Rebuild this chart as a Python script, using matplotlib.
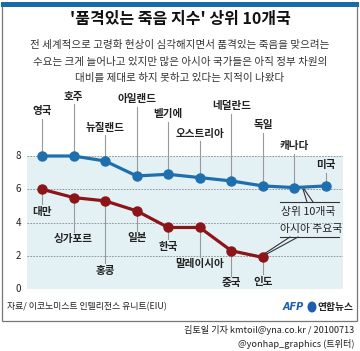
import matplotlib
matplotlib.use('Agg')
import matplotlib.pyplot as plt
from matplotlib.patches import Rectangle, Ellipse

plt.rcParams['font.family'] = ['Noto Sans CJK KR', 'DejaVu Sans']

# data (EIU Quality of Death Index, 2010)
top_names = ['영국', '호주', '뉴질랜드', '아일랜드', '벨기에', '오스트리아', '네덜란드', '독일', '캐나다', '미국']
top_scores = [8.0, 8.0, 7.7, 6.8, 6.9, 6.7, 6.5, 6.2, 6.1, 6.2]
asia_names = ['대만', '싱가포르', '홍콩', '일본', '한국', '말레이시아', '중국', '인도']
asia_scores = [6.0, 5.5, 5.3, 4.7, 3.7, 3.7, 2.3, 1.9]
y_ticks = [0, 2, 4, 6, 8]

# label heights (data units) for the call-out names
top_label_y = [10.7, 11.55, 9.7, 11.4, 10.5, 9.35, 11.0, 9.85, 8.6, 7.45]
asia_label_y = [4.65, 3.0, 1.1, 3.05, 2.55, 1.5, 0.35, 0.45]

W, H = 360, 351
fig = plt.figure(figsize=(W / 100, H / 100), dpi=100)


def fx(x):
    return x / W


def fy(y):
    return 1 - y / H


# frame + top bar
fig.add_artist(Rectangle((fx(1.5), fy(321)), fx(355.5), (319 - 2) / H, transform=fig.transFigure,
                         fill=False, edgecolor='#777777', linewidth=0.9))
fig.add_artist(Rectangle((fx(1), fy(7)), fx(358), 5 / H, transform=fig.transFigure,
                         facecolor='#1b6aa8', edgecolor='none'))

fig.text(0.5, fy(19), "'품격있는 죽음 지수' 상위 10개국", ha='center', va='center',
         fontsize=11.5, fontweight='bold', color='#111111')
sub = ['전 세계적으로 고령화 현상이 심각해지면서 품격있는 죽음을 맞으려는',
       '수요는 크게 늘어나고 있지만 많은 아시아 국가들은 아직 정부 차원의',
       '대비를 제대로 하지 못하고 있다는 지적이 나왔다']
for i, s in enumerate(sub):
    fig.text(0.5, fy(45 + i * 16.5), s, ha='center', va='center', fontsize=7.6, color='#333333')

# plot area
ax = fig.add_axes([fx(27), fy(289), (343 - 27) / W, (289 - 156) / H])
ax.set_xlim(-0.475, 9.54)
ax.set_ylim(0, 8)
ax.axis('off')
ax.add_patch(Rectangle((-0.475, 0), 10.015, 8, facecolor='#e4f1f4', edgecolor='none', zorder=0))
for t in y_ticks:
    ax.axhline(t, color='#888888', linestyle=(0, (2, 1.5)), linewidth=0.6, zorder=1)
    ax.text(-0.66, t, str(t), ha='right', va='center', fontsize=7, color='#222222', clip_on=False)

xs_top = list(range(len(top_scores)))
xs_asia = list(range(len(asia_scores)))
ax.plot(xs_top, top_scores, color='#1f6fae', linewidth=2.3, marker='o', markersize=6.5, zorder=4, clip_on=False)
ax.plot(xs_asia, asia_scores, color='#8b1519', linewidth=2.3, marker='o', markersize=6.5, zorder=4, clip_on=False)

for x, v, n, ly in zip(xs_top, top_scores, top_names, top_label_y):
    if ly - 0.45 > v:
        ax.plot([x, x], [v, ly - 0.45], color='#999999', linewidth=0.8, zorder=2, clip_on=False)
    ax.text(x, ly, n, ha='center', va='center', fontsize=7.6, fontweight='bold', color='#222222', clip_on=False)
for x, v, n, ly in zip(xs_asia, asia_scores, asia_names, asia_label_y):
    if ly + 0.45 < v:
        ax.plot([x, x], [v, ly + 0.45], color='#999999', linewidth=0.8, zorder=2, clip_on=False)
    ax.text(x, ly, n, ha='center', va='center', fontsize=7.6, fontweight='bold', color='#222222', clip_on=False)


# series call-outs (positioned in pixel space)
def d(px, py):
    return ax.transData.inverted().transform(fig.transFigure.transform((fx(px), fy(py))))


def seg(p0, p1, lw=0.8):
    a, b = d(*p0), d(*p1)
    ax.plot([a[0], b[0]], [a[1], b[1]], color='#333333', linewidth=lw, zorder=3, clip_on=False)


seg((280, 202), (339, 202))
seg((303, 189), (307, 202))
seg((304, 189), (313, 202))
p = d(281, 212)
ax.text(p[0], p[1], '상위 10개국', ha='left', va='center', fontsize=7.8, color='#222222', clip_on=False)
seg((280, 237), (339, 237))
seg((290, 237), (264, 254))
seg((298, 237), (265, 255))
p = d(280, 229)
ax.text(p[0], p[1], '아시아 주요국', ha='left', va='center', fontsize=7.8, color='#222222', clip_on=False)

# source / logos
fig.text(fx(7), fy(307), '자료/ 이코노미스트 인텔리전스 유니트(EIU)', ha='left', va='center',
         fontsize=6.4, color='#222222')
fig.text(fx(304), fy(307), 'AFP', ha='right', va='center', fontsize=7, fontweight='bold',
         fontstyle='italic', color='#1d5fae', family='DejaVu Sans')
fig.add_artist(Ellipse((fx(312), fy(307)), 9 / W, 11 / H, transform=fig.transFigure,
                       facecolor='#1d5fae', edgecolor='none'))
fig.text(fx(318), fy(307), '연합뉴스', ha='left', va='center', fontsize=7, fontweight='bold', color='#222222')

fig.text(fx(354), fy(330), '김토일 기자 kmtoil@yna.co.kr / 20100713', ha='right', va='center',
         fontsize=6.6, color='#222222')
fig.text(fx(354), fy(344), '@yonhap_graphics (트위터)', ha='right', va='center',
         fontsize=6.6, color='#222222')

fig.savefig('out.png', dpi=100)
